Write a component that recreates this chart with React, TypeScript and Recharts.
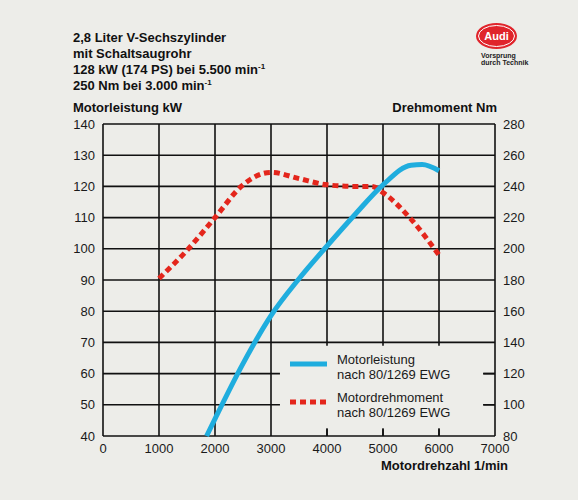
import { LineChart, Line, XAxis, YAxis, CartesianGrid, ReferenceArea, ReferenceLine } from 'recharts';

const rpmTicks = [0, 1000, 2000, 3000, 4000, 5000, 6000, 7000];
const kwTicks = [40, 50, 60, 70, 80, 90, 100, 110, 120, 130, 140];
const nmTicks = [80, 100, 120, 140, 160, 180, 200, 220, 240, 260, 280];

// Motorleistung (kW)
const powerRpm = [1850, 2000, 2500, 3000, 3500, 4000, 4500, 5000, 5500, 5700, 6000];
const powerKw = [40, 45.5, 63.2, 78.6, 90.4, 100.9, 111, 120.5, 126.8, 127, 125];

// Motordrehmoment (Nm)
const torqueRpm = [1000, 1500, 2000, 2500, 3000, 3500, 4000, 4500, 4800, 5000, 5500, 6000];
const torqueNm = [181, 199, 220, 241, 249, 245, 241, 240, 240, 236, 219, 196];

const powerData = powerRpm.map((rpm, i) => ({ rpm, kw: powerKw[i] }));
const torqueData = torqueRpm.map((rpm, i) => ({ rpm, nm: torqueNm[i] }));

const BG = '#edede9';
const BLUE = '#1fadde';
const RED = '#e4261c';
const FONT = '"Liberation Sans", Arial, sans-serif';

const tickStyle = { fill: '#1a1a1a', fontSize: 13, fontFamily: FONT };
const titleStyle: React.CSSProperties = {
  position: 'absolute',
  fontFamily: FONT,
  fontWeight: 'bold',
  fontSize: 13,
  color: '#111',
  whiteSpace: 'nowrap',
  lineHeight: '16px',
};
const supStyle: React.CSSProperties = { fontSize: 8, position: 'relative', top: -5, verticalAlign: 'baseline', lineHeight: 0 };

function LegendBox() {
  const text: React.CSSProperties = { fontFamily: FONT, fontSize: 13, color: '#1a1a1a', lineHeight: '15px', whiteSpace: 'nowrap' };
  return (
    <div style={{ position: 'absolute', left: 288, top: 349, width: 200, height: 80 }}>
      <svg width={40} height={60} style={{ position: 'absolute', left: 0, top: 0 }}>
        <line x1={2} y1={15} x2={39} y2={15} stroke={BLUE} strokeWidth={5} />
        <line x1={2} y1={53} x2={39} y2={53} stroke={RED} strokeWidth={5} strokeDasharray="6 4" />
      </svg>
      <div style={{ ...text, position: 'absolute', left: 49, top: 3 }}>
        Motorleistung<br />nach 80/1269 EWG
      </div>
      <div style={{ ...text, position: 'absolute', left: 49, top: 41 }}>
        Motordrehmoment<br />nach 80/1269 EWG
      </div>
    </div>
  );
}

export default function App() {
  return (
    <div style={{ position: 'absolute', left: 0, top: 0, width: 578, height: 500, background: BG, overflow: 'hidden' }}>
      <div style={{ ...titleStyle, left: 73, top: 30 }}>
        2,8 Liter V-Sechszylinder<br />
        mit Schaltsaugrohr<br />
        128 kW (174 PS) bei 5.500 min<span style={supStyle}>-1</span><br />
        250 Nm bei 3.000 min<span style={supStyle}>-1</span>
      </div>
      <div style={{ ...titleStyle, left: 73, top: 100 }}>Motorleistung kW</div>
      <div style={{ ...titleStyle, right: 81, top: 100 }}>Drehmoment Nm</div>
      <div style={{ ...titleStyle, right: 70, top: 458 }}>Motordrehzahl 1/min</div>

      <svg width={60} height={50} style={{ position: 'absolute', left: 470, top: 20 }}>
        <ellipse cx={26.5} cy={16} rx={20.5} ry={13} fill="#e0242b" />
        <ellipse cx={26.5} cy={16} rx={18} ry={10.5} fill="none" stroke="#fff" strokeWidth={1} />
        <text x={26.5} y={20} textAnchor="middle" fill="#fff" fontFamily={FONT} fontWeight="bold" fontSize={11}>Audi</text>
        <text x={11} y={38} fill="#222" fontFamily={FONT} fontWeight="bold" fontSize={7}>Vorsprung</text>
        <text x={11} y={45} fill="#222" fontFamily={FONT} fontWeight="bold" fontSize={7}>durch Technik</text>
      </svg>

      <LineChart width={578} height={500} margin={{ top: 124, right: 43, bottom: 39, left: 63 }}>
        <CartesianGrid yAxisId="kw" stroke="#111" strokeWidth={1.6} strokeOpacity={1} />
        <XAxis
          dataKey="rpm"
          type="number"
          domain={[0, 7000]}
          ticks={rpmTicks}
          axisLine={false}
          tickLine={false}
          tick={tickStyle}
          height={25}
          interval={0}
        />
        <YAxis
          yAxisId="kw"
          domain={[40, 140]}
          ticks={kwTicks}
          axisLine={false}
          tickLine={false}
          tick={tickStyle}
          width={40}
          interval={0}
        />
        <YAxis
          yAxisId="nm"
          orientation="right"
          domain={[80, 280]}
          ticks={nmTicks}
          axisLine={false}
          tickLine={false}
          tick={tickStyle}
          width={40}
          interval={0}
        />
        <ReferenceArea yAxisId="kw" x1={3160} x2={6790} y1={42.2} y2={68.9} fill={BG} fillOpacity={1} stroke="none" />
        <ReferenceLine yAxisId="kw" segment={[{ x: 4000, y: 40 }, { x: 4000, y: 42.5 }]} stroke="#111" strokeWidth={1.6} />
        <ReferenceLine yAxisId="kw" segment={[{ x: 5000, y: 40 }, { x: 5000, y: 42.5 }]} stroke="#111" strokeWidth={1.6} />
        <ReferenceLine yAxisId="kw" segment={[{ x: 6000, y: 40 }, { x: 6000, y: 42.5 }]} stroke="#111" strokeWidth={1.6} />
        <ReferenceLine yAxisId="kw" segment={[{ x: 6790, y: 50 }, { x: 7000, y: 50 }]} stroke="#111" strokeWidth={1.6} />
        <ReferenceLine yAxisId="kw" segment={[{ x: 6790, y: 60 }, { x: 7000, y: 60 }]} stroke="#111" strokeWidth={1.6} />
        <Line
          yAxisId="nm"
          data={torqueData}
          dataKey="nm"
          type="monotone"
          stroke={RED}
          strokeWidth={5}
          strokeDasharray="6 4"
          dot={false}
          isAnimationActive={false}
        />
        <Line
          yAxisId="kw"
          data={powerData}
          dataKey="kw"
          type="monotone"
          stroke={BLUE}
          strokeWidth={5}
          dot={false}
          isAnimationActive={false}
        />
      </LineChart>
      <LegendBox />
    </div>
  );
}
